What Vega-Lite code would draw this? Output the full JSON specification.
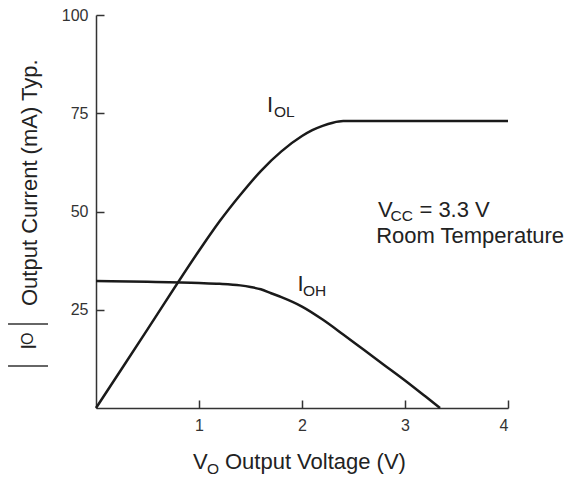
{
  "$schema": "https://vega.github.io/schema/vega-lite/v6.json",
  "autosize": "none",
  "width": 412,
  "height": 393,
  "padding": {"left": 96, "top": 15, "right": 69, "bottom": 70},
  "background": "white",
  "config": {
    "view": {"stroke": null},
    "font": "Liberation Sans",
    "axis": {
      "grid": false,
      "domainColor": "#333333",
      "domainWidth": 1.5,
      "tickColor": "#333333",
      "tickWidth": 1.5,
      "tickSize": -8,
      "labelFont": "Liberation Sans",
      "labelFontSize": 16,
      "labelColor": "#333333",
      "title": null
    }
  },
  "datasets": {
    "curves": [
      {"series": "IOL", "V": 0, "I": 0},
      {"series": "IOL", "V": 0.5, "I": 20.0},
      {"series": "IOL", "V": 1.0, "I": 40.0},
      {"series": "IOL", "V": 1.2, "I": 47.5},
      {"series": "IOL", "V": 1.4, "I": 54.2},
      {"series": "IOL", "V": 1.6, "I": 60.3},
      {"series": "IOL", "V": 1.8, "I": 65.3},
      {"series": "IOL", "V": 2.0, "I": 69.2},
      {"series": "IOL", "V": 2.1, "I": 70.7},
      {"series": "IOL", "V": 2.2, "I": 71.8},
      {"series": "IOL", "V": 2.3, "I": 72.6},
      {"series": "IOL", "V": 2.4, "I": 73.0},
      {"series": "IOL", "V": 2.5, "I": 73.0},
      {"series": "IOL", "V": 3.0, "I": 73.0},
      {"series": "IOL", "V": 3.5, "I": 73.0},
      {"series": "IOL", "V": 4.0, "I": 73.0},
      {"series": "IOH", "V": 0, "I": 32.3},
      {"series": "IOH", "V": 0.5, "I": 32.1},
      {"series": "IOH", "V": 1.0, "I": 31.8},
      {"series": "IOH", "V": 1.2, "I": 31.6},
      {"series": "IOH", "V": 1.4, "I": 31.2},
      {"series": "IOH", "V": 1.5, "I": 30.8},
      {"series": "IOH", "V": 1.6, "I": 30.2},
      {"series": "IOH", "V": 1.7, "I": 29.2},
      {"series": "IOH", "V": 1.8, "I": 28.2},
      {"series": "IOH", "V": 2.0, "I": 25.8},
      {"series": "IOH", "V": 2.2, "I": 22.5},
      {"series": "IOH", "V": 2.4, "I": 18.7},
      {"series": "IOH", "V": 2.6, "I": 14.8},
      {"series": "IOH", "V": 2.8, "I": 10.9},
      {"series": "IOH", "V": 3.0, "I": 7.0},
      {"series": "IOH", "V": 3.2, "I": 2.9},
      {"series": "IOH", "V": 3.34, "I": 0}
    ],
    "mainText": [
      {"text": "I", "V": 1.66, "I": 75.4},
      {"text": "I", "V": 1.956, "I": 29.8},
      {"text": "V", "V": 2.738, "I": 48.7},
      {"text": "= 3.3 V", "V": 3.14, "I": 48.7},
      {"text": "Room Temperature", "V": 2.72, "I": 42.06},
      {"text": "V", "V": 0.942, "I": -15.5},
      {"text": "Output Voltage (V)", "V": 1.252, "I": -15.5}
    ],
    "subText": [
      {"text": "OL", "V": 1.728, "I": 74.1},
      {"text": "OH", "V": 2.01, "I": 28.5},
      {"text": "CC", "V": 2.86, "I": 47.6},
      {"text": "O", "V": 1.078, "I": -16.8}
    ],
    "yTitleMain": [
      {"text": "Output Current (mA) Typ.", "V": -0.573, "I": 25.95},
      {"text": "I", "V": -0.583, "I": 14.8}
    ],
    "yTitleSub": [
      {"text": "O", "V": -0.612, "I": 16.0}
    ],
    "bars": [
      {"V": -0.854, "V2": -0.466, "I": 21.4},
      {"V": -0.854, "V2": -0.466, "I": 10.7}
    ]
  },
  "encoding": {
    "x": {"field": "V", "type": "quantitative", "scale": {"domain": [0, 4], "nice": false, "zero": false},
          "axis": {"values": [1, 2, 3, 4], "labelPadding": 17}},
    "y": {"field": "I", "type": "quantitative", "scale": {"domain": [0, 100], "nice": false, "zero": false},
          "axis": {"values": [25, 50, 75, 100], "labelPadding": 16}}
  },
  "layer": [
    {
      "data": {"name": "curves"},
      "mark": {"type": "line", "color": "#1a1a1a", "strokeWidth": 2.5, "interpolate": "monotone"},
      "encoding": {"detail": {"field": "series"}}
    },
    {
      "data": {"name": "mainText"},
      "mark": {"type": "text", "align": "left", "baseline": "alphabetic", "fontSize": 22, "color": "#222222", "font": "Liberation Sans"},
      "encoding": {"text": {"field": "text"}}
    },
    {
      "data": {"name": "subText"},
      "mark": {"type": "text", "align": "left", "baseline": "alphabetic", "fontSize": 15.5, "color": "#222222", "font": "Liberation Sans"},
      "encoding": {"text": {"field": "text"}}
    },
    {
      "data": {"name": "yTitleMain"},
      "mark": {"type": "text", "align": "left", "baseline": "alphabetic", "angle": 270, "fontSize": 22, "color": "#222222", "font": "Liberation Sans"},
      "encoding": {"text": {"field": "text"}}
    },
    {
      "data": {"name": "yTitleSub"},
      "mark": {"type": "text", "align": "left", "baseline": "alphabetic", "angle": 270, "fontSize": 16, "color": "#222222", "font": "Liberation Sans"},
      "encoding": {"text": {"field": "text"}}
    },
    {
      "data": {"name": "bars"},
      "mark": {"type": "rule", "color": "#333333", "strokeWidth": 1.5},
      "encoding": {"x2": {"field": "V2"}}
    }
  ]
}
